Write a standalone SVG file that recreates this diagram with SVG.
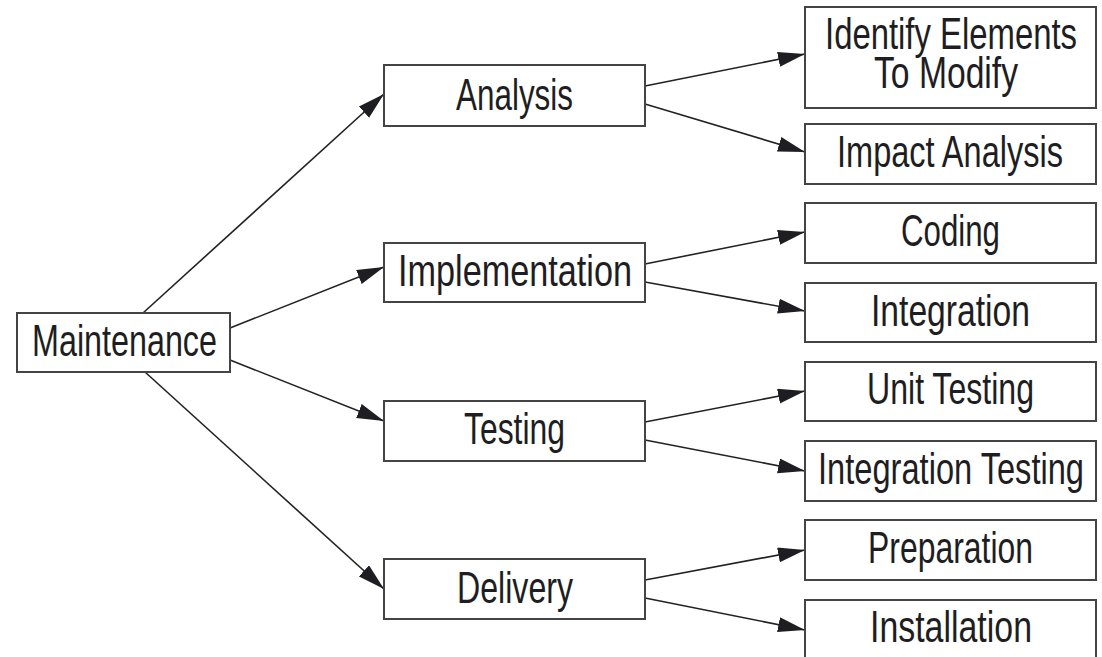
<svg xmlns="http://www.w3.org/2000/svg" width="1102" height="657" viewBox="0 0 1102 657">
<style>
.box{fill:#fff;stroke:#444;stroke-width:2}
.lbl{font-family:"Liberation Sans Narrow","Liberation Sans",Arial,sans-serif;font-size:45px;fill:#1e1e22;text-anchor:middle}
.conn line{stroke:#222;stroke-width:1.6;marker-end:url(#arr)}
</style>
<defs>
<marker id="arr" markerUnits="userSpaceOnUse" markerWidth="28" markerHeight="16" refX="27" refY="7.5" orient="auto">
<path d="M0,0 L27,7.5 L0,15 z" fill="#1e1e22"/>
</marker>
</defs>
<rect width="1102" height="657" fill="#fff"/>
<g class="conn" id="connectors">
<line x1="143" y1="313" x2="384" y2="94"/>
<line x1="230" y1="328" x2="384" y2="267"/>
<line x1="230" y1="360" x2="384" y2="421"/>
<line x1="145" y1="372" x2="384" y2="589"/>
<line x1="645" y1="86" x2="805" y2="54"/>
<line x1="645" y1="104" x2="805" y2="152"/>
<line x1="645" y1="264" x2="805" y2="232"/>
<line x1="645" y1="282" x2="805" y2="311"/>
<line x1="645" y1="422" x2="805" y2="391"/>
<line x1="645" y1="440" x2="805" y2="471"/>
<line x1="645" y1="580" x2="805" y2="550"/>
<line x1="645" y1="598" x2="805" y2="630"/>
</g>
<g id="maintenance"><rect class="box" x="17" y="313" width="213" height="59"/><text class="lbl" x="124.5" y="356" textLength="185" lengthAdjust="spacingAndGlyphs">Maintenance</text></g>
<g id="analysis"><rect class="box" x="384" y="65" width="261" height="61"/><text class="lbl" x="514.5" y="110" textLength="117" lengthAdjust="spacingAndGlyphs">Analysis</text></g>
<g id="implementation"><rect class="box" x="384" y="243" width="261" height="59"/><text class="lbl" x="515" y="286" textLength="234" lengthAdjust="spacingAndGlyphs">Implementation</text></g>
<g id="testing"><rect class="box" x="384" y="401" width="261" height="60"/><text class="lbl" x="514.5" y="444" textLength="101" lengthAdjust="spacingAndGlyphs">Testing</text></g>
<g id="delivery"><rect class="box" x="384" y="559" width="261" height="60"/><text class="lbl" x="515" y="603" textLength="116" lengthAdjust="spacingAndGlyphs">Delivery</text></g>
<g id="identify"><rect class="box" x="805" y="7" width="291" height="101"/><text class="lbl" x="951" y="49" textLength="252" lengthAdjust="spacingAndGlyphs">Identify Elements</text><text class="lbl" x="946" y="88" textLength="144" lengthAdjust="spacingAndGlyphs">To Modify</text></g>
<g id="impact"><rect class="box" x="805" y="124" width="291" height="60"/><text class="lbl" x="950" y="167" textLength="226" lengthAdjust="spacingAndGlyphs">Impact Analysis</text></g>
<g id="coding"><rect class="box" x="805" y="203" width="291" height="60"/><text class="lbl" x="950.5" y="246" textLength="99" lengthAdjust="spacingAndGlyphs">Coding</text></g>
<g id="integration"><rect class="box" x="805" y="283" width="291" height="59"/><text class="lbl" x="950.5" y="326" textLength="159" lengthAdjust="spacingAndGlyphs">Integration</text></g>
<g id="unit-testing"><rect class="box" x="805" y="362" width="291" height="59"/><text class="lbl" x="950.5" y="404" textLength="167" lengthAdjust="spacingAndGlyphs">Unit Testing</text></g>
<g id="integration-testing"><rect class="box" x="805" y="441" width="291" height="60"/><text class="lbl" x="951" y="484" textLength="266" lengthAdjust="spacingAndGlyphs">Integration Testing</text></g>
<g id="preparation"><rect class="box" x="805" y="520" width="291" height="60"/><text class="lbl" x="950.5" y="563" textLength="165" lengthAdjust="spacingAndGlyphs">Preparation</text></g>
<g id="installation"><rect class="box" x="805" y="600" width="291" height="60"/><text class="lbl" x="951" y="642" textLength="162" lengthAdjust="spacingAndGlyphs">Installation</text></g>
</svg>
